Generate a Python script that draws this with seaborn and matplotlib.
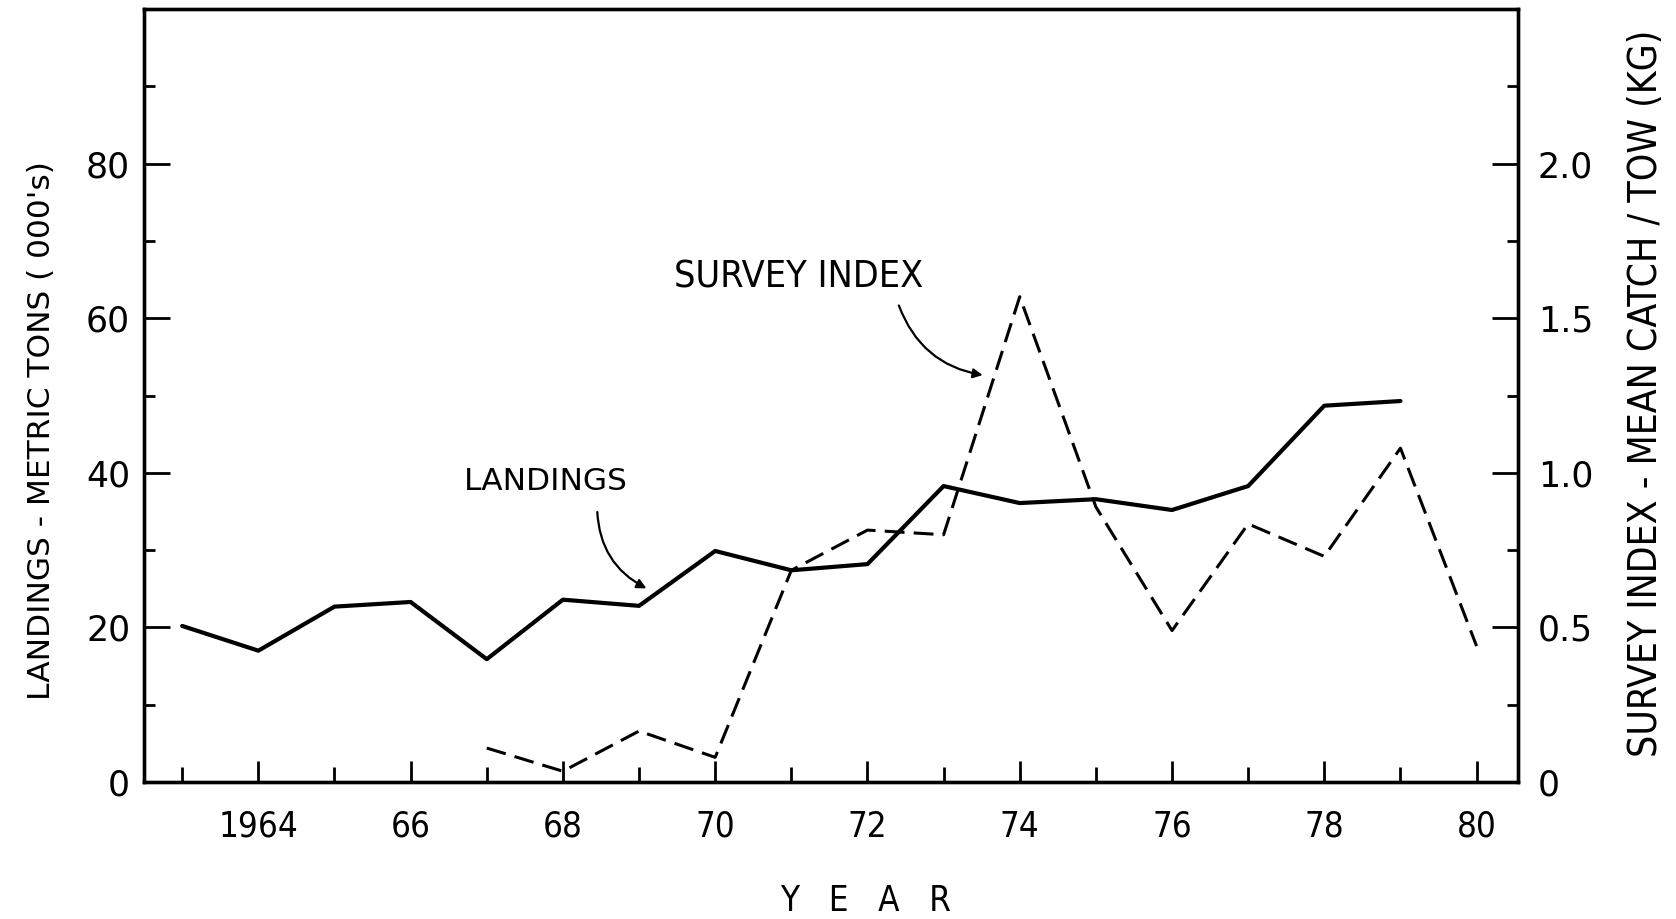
import matplotlib
matplotlib.use("Agg")
import matplotlib.pyplot as plt
import seaborn as sns
import pandas as pd
from matplotlib.ticker import MultipleLocator, FixedLocator, FixedFormatter

# landings (thousand metric tons) and survey index (kg per tow)
years = list(range(1963, 1980))
landings = [20.2, 17.0, 22.7, 23.3, 15.9, 23.6, 22.8, 29.9, 27.4, 28.2,
            38.3, 36.1, 36.6, 35.2, 38.3, 48.7, 49.3]

survey_years = list(range(1967, 1981))
survey_index = [0.11, 0.035, 0.165, 0.08, 0.685, 0.815, 0.80, 1.57, 0.89,
                0.49, 0.835, 0.73, 1.08, 0.44]

year_ticks = [1964, 1966, 1968, 1970, 1972, 1974, 1976, 1978, 1980]
year_labels = ['1964', '66', '68', '70', '72', '74', '76', '78', '80']
right_ticks = [0, 0.5, 1.0, 1.5, 2.0]
right_labels = ['0', '0.5', '1.0', '1.5', '2.0']

sns.set_style("ticks")
plt.rcParams['font.family'] = ['DejaVu Sans']
plt.rcParams['text.color'] = 'black'
plt.rcParams['xtick.color'] = 'black'
plt.rcParams['ytick.color'] = 'black'
plt.rcParams['axes.labelcolor'] = 'black'
cond = dict(family='DejaVu Sans', stretch='condensed')

df_land = pd.DataFrame({'year': years, 'value': landings})
df_surv = pd.DataFrame({'year': survey_years, 'value': survey_index})

fig = plt.figure(figsize=(16.76, 9.19), dpi=100)
ax = fig.add_axes([0.086, 0.149, 0.820, 0.841])
ax2 = ax.twinx()

sns.lineplot(data=df_land, x='year', y='value', ax=ax, color='black', lw=3.0)
sns.lineplot(data=df_surv, x='year', y='value', ax=ax2, color='black', lw=2.2)
ax2.lines[0].set_dashes([6.5, 3])

ax.set_xlim(1962.5, 1980.55)
ax.set_ylim(0, 100)
ax2.set_ylim(0, 2.5)

# x axis
ax.xaxis.set_major_locator(FixedLocator(year_ticks))
ax.xaxis.set_major_formatter(FixedFormatter(year_labels))
ax.xaxis.set_minor_locator(FixedLocator([y for y in range(1963, 1981, 2)]))
# left axis
ax.yaxis.set_major_locator(FixedLocator([0, 20, 40, 60, 80]))
ax.yaxis.set_minor_locator(MultipleLocator(10))
# right axis
ax2.yaxis.set_major_locator(FixedLocator(right_ticks))
ax2.yaxis.set_major_formatter(FixedFormatter(right_labels))
ax2.yaxis.set_minor_locator(MultipleLocator(0.25))

ax.tick_params(axis='x', which='major', direction='in', length=15, width=2,
               pad=20, labelsize=25)
ax.tick_params(axis='x', which='minor', direction='in', length=11, width=2)
ax.tick_params(axis='y', which='major', direction='in', length=19, width=2,
               pad=10, labelsize=25)
ax.tick_params(axis='y', which='minor', direction='in', length=8, width=2)
ax2.tick_params(axis='y', which='major', direction='in', length=19, width=2,
                pad=14, labelsize=25)
ax2.tick_params(axis='y', which='minor', direction='in', length=8, width=2)

for lab in ax.get_xticklabels():
    lab.set_fontstretch('condensed')

for a in (ax, ax2):
    for s in a.spines.values():
        s.set_visible(True)
        s.set_linewidth(2.4)
        s.set_color('black')

ax.set_xlabel('Y   E   A   R', fontsize=25, va='center', **cond)
ax.xaxis.set_label_coords(0.525, -0.154)
ax.set_ylabel("LANDINGS - METRIC TONS ( 000's)", fontsize=22.5, va='center')
ax.yaxis.set_label_coords(-0.075, 0.455)
ax2.set_ylabel('SURVEY INDEX - MEAN CATCH / TOW (KG)', fontsize=28,
               va='center', rotation=90, **cond)
ax2.yaxis.set_label_coords(1.093, 0.503)

# labels with curved arrows
ax.text(1971.1, 65.3, 'SURVEY INDEX', fontsize=27, ha='center', va='center',
        **cond)
ax.annotate('', xy=(1973.55, 52.6), xytext=(1972.4, 62.0),
            arrowprops=dict(arrowstyle='-|>', connectionstyle='arc3,rad=0.3',
                            color='black', lw=1.6, mutation_scale=14))
ax.text(1967.78, 38.9, 'LANDINGS', fontsize=22.5, ha='center', va='center')
ax.annotate('', xy=(1969.13, 24.9), xytext=(1968.45, 35.3),
            arrowprops=dict(arrowstyle='-|>', connectionstyle='arc3,rad=0.3',
                            color='black', lw=1.6, mutation_scale=14))

fig.savefig('out.png', dpi=100)
